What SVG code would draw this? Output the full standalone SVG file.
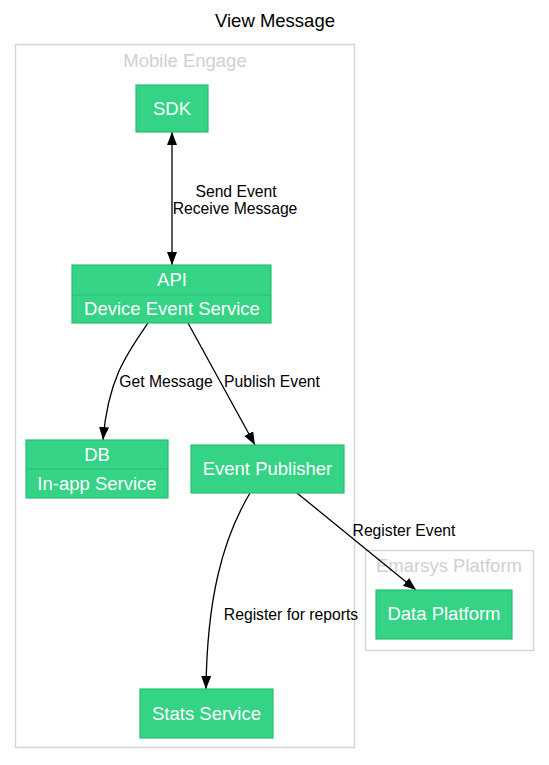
<svg xmlns="http://www.w3.org/2000/svg" width="549" height="765" viewBox="0 0 549 765">
<style>
text{font-family:"Liberation Sans",Arial,sans-serif}
.title{font-size:18.5px;fill:#000;text-anchor:middle}
.clabel{font-size:18.5px;fill:#d0d0d0;text-anchor:middle}
.cluster{fill:none;stroke:#d6d6d6;stroke-width:1.5}
.node{fill:#34d386;stroke:#27c072;stroke-width:1.2}
.div{stroke:#27c072;stroke-width:1.2}
.ntext{font-size:18.5px;fill:#fff;text-anchor:middle}
.edge{fill:none;stroke:#000;stroke-width:1.3}
.elabel{font-size:15.7px;fill:#000;text-anchor:middle}
</style>
<defs>
<marker id="arr" markerWidth="14" markerHeight="12" refX="13" refY="5" orient="auto" markerUnits="userSpaceOnUse">
<path d="M0,0 L13,5 L0,10 Z" fill="#000"/>
</marker>
<marker id="arrs" markerWidth="14" markerHeight="12" refX="0" refY="5" orient="auto" markerUnits="userSpaceOnUse">
<path d="M13,0 L0,5 L13,10 Z" fill="#000"/>
</marker>
</defs>
<rect width="549" height="765" fill="#fff"/>
<text class="title" x="275" y="27">View Message</text>

<g id="cluster-mobile-engage">
<rect class="cluster" x="15.5" y="44.5" width="339" height="703"/>
<text class="clabel" x="185" y="67">Mobile Engage</text>
</g>
<g id="cluster-emarsys-platform">
<rect class="cluster" x="365.5" y="550.5" width="168" height="100"/>
<text class="clabel" x="449" y="572">Emarsys Platform</text>
</g>

<g id="edges">
<line class="edge" x1="172" y1="132" x2="172" y2="265" marker-start="url(#arrs)" marker-end="url(#arr)"/>
<text class="elabel" x="236" y="197">Send Event</text>
<text class="elabel" x="235" y="214">Receive Message</text>
<path class="edge" d="M148,323 C128,352 108,378 103,440" marker-end="url(#arr)"/>
<text class="elabel" x="166" y="387">Get Message</text>
<path class="edge" d="M188,323 L255,445" marker-end="url(#arr)"/>
<text class="elabel" x="272" y="387">Publish Event</text>
<path class="edge" d="M250,493 C222,540 207,600 206,689" marker-end="url(#arr)"/>
<text class="elabel" x="291" y="620">Register for reports</text>
<path class="edge" d="M297,493 L416,590" marker-end="url(#arr)"/>
<text class="elabel" x="404" y="536">Register Event</text>
</g>

<g id="node-sdk">
<rect class="node" x="136" y="85" width="72" height="47"/>
<text class="ntext" x="172" y="115">SDK</text>
</g>
<g id="node-api">
<rect class="node" x="72" y="265" width="199" height="58"/>
<line class="div" x1="72" y1="295" x2="271" y2="295"/>
<text class="ntext" x="172" y="286">API</text>
<text class="ntext" x="172" y="315">Device Event Service</text>
</g>
<g id="node-db">
<rect class="node" x="26" y="440" width="142" height="58"/>
<line class="div" x1="26" y1="469" x2="168" y2="469"/>
<text class="ntext" x="97" y="461">DB</text>
<text class="ntext" x="97" y="490">In-app Service</text>
</g>
<g id="node-event-publisher">
<rect class="node" x="191" y="445" width="153" height="48"/>
<text class="ntext" x="267.5" y="475">Event Publisher</text>
</g>
<g id="node-data-platform">
<rect class="node" x="376" y="590" width="136" height="49"/>
<text class="ntext" x="444" y="620">Data Platform</text>
</g>
<g id="node-stats-service">
<rect class="node" x="140" y="689" width="133" height="49"/>
<text class="ntext" x="206.5" y="720">Stats Service</text>
</g>
</svg>
